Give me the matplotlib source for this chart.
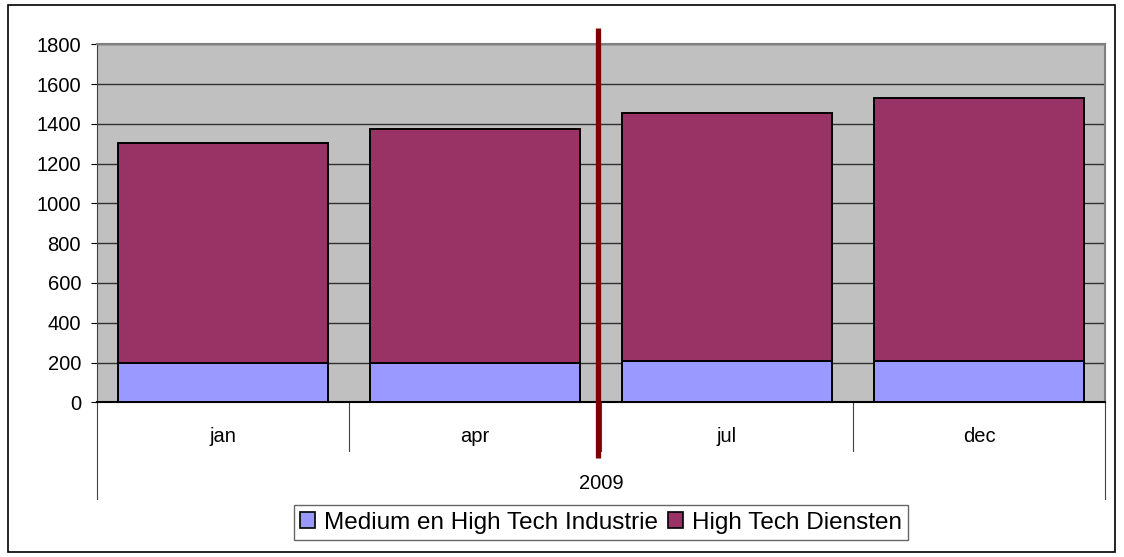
import matplotlib
matplotlib.use("Agg")
import matplotlib.pyplot as plt
from matplotlib.patches import Rectangle, Patch

plt.rcParams['font.family'] = ['Liberation Sans', 'DejaVu Sans']

# data
maanden = ['jan', 'apr', 'jul', 'dec']
jaar = '2009'
industrie = [200, 200, 210, 210]
diensten_totaal = [1305, 1375, 1455, 1528]
diensten = [t - i for t, i in zip(diensten_totaal, industrie)]
reeksen = ['Medium en High Tech Industrie', 'High Tech Diensten']
scheiding = 1.49  # rode lijn tussen apr en jul

kleur_ind = '#9999FF'
kleur_dienst = '#993366'

fig = plt.figure(figsize=(11.24, 5.57), dpi=100)
ax = fig.add_axes([0.0863, 0.2777, 0.8968, 0.6428])
ax.set_facecolor('#C0C0C0')

x = range(len(maanden))
ax.bar(x, industrie, width=0.833, color=kleur_ind, edgecolor='black', linewidth=1.4, zorder=3)
ax.bar(x, diensten, bottom=industrie, width=0.833, color=kleur_dienst, edgecolor='black', linewidth=1.4, zorder=3)

ax.set_xlim(-0.5, len(maanden) - 0.5)
ax.set_ylim(0, 1800)
ax.set_yticks(range(0, 1801, 200))
ax.yaxis.grid(True, color='#303030', linewidth=1.0, zorder=1)
ax.set_axisbelow(True)
ax.tick_params(axis='y', direction='out', length=4.5, width=0.8, labelsize=14.5, pad=7, colors='black')
ax.set_xticks([])

for s in ['top', 'right']:
    ax.spines[s].set_color('#808080')
    ax.spines[s].set_linewidth(1.5)
ax.spines['left'].set_color('#404040')
ax.spines['bottom'].set_color('black')
ax.spines['bottom'].set_linewidth(1.5)

# categorie-as in twee niveaus
tr = ax.get_xaxis_transform()
for b in [0.5, 1.5, 2.5]:
    ax.plot([b, b], [0, -0.137], transform=tr, color='#404040', linewidth=0.8, clip_on=False)
for b in [-0.5, len(maanden) - 0.5]:
    ax.plot([b, b], [0, -0.271], transform=tr, color='#404040', linewidth=0.8, clip_on=False)
for i, m in enumerate(maanden):
    ax.text(i, -0.095, m, transform=tr, ha='center', va='center', fontsize=14.5)
ax.text((len(maanden) - 1) / 2, -0.227, jaar, transform=tr, ha='center', va='center', fontsize=14.5)

# rode scheidingslijn
ax.plot([scheiding, scheiding], [-0.156, 1.045], transform=tr, color='#800000',
        linewidth=3.8, solid_capstyle='butt', clip_on=False, zorder=5)

handles = [Patch(facecolor=kleur_ind, edgecolor='black', linewidth=1.2),
           Patch(facecolor=kleur_dienst, edgecolor='black', linewidth=1.2)]
leg = fig.legend(handles, reeksen, loc='center', bbox_to_anchor=(0.5347, 0.0619), ncol=2,
                 fontsize=17.5, frameon=True, fancybox=False, edgecolor='#404040',
                 handlelength=0.6, handleheight=0.6, handletextpad=0.35, columnspacing=0.45,
                 borderpad=0.25, borderaxespad=0)
leg.get_frame().set_linewidth(1.0)

fig.patches.append(Rectangle((8 / 1124, 5 / 557), 1107 / 1124, 547 / 557, transform=fig.transFigure,
                             fill=False, edgecolor='black', linewidth=1.2))

fig.savefig('out.png', dpi=100)
